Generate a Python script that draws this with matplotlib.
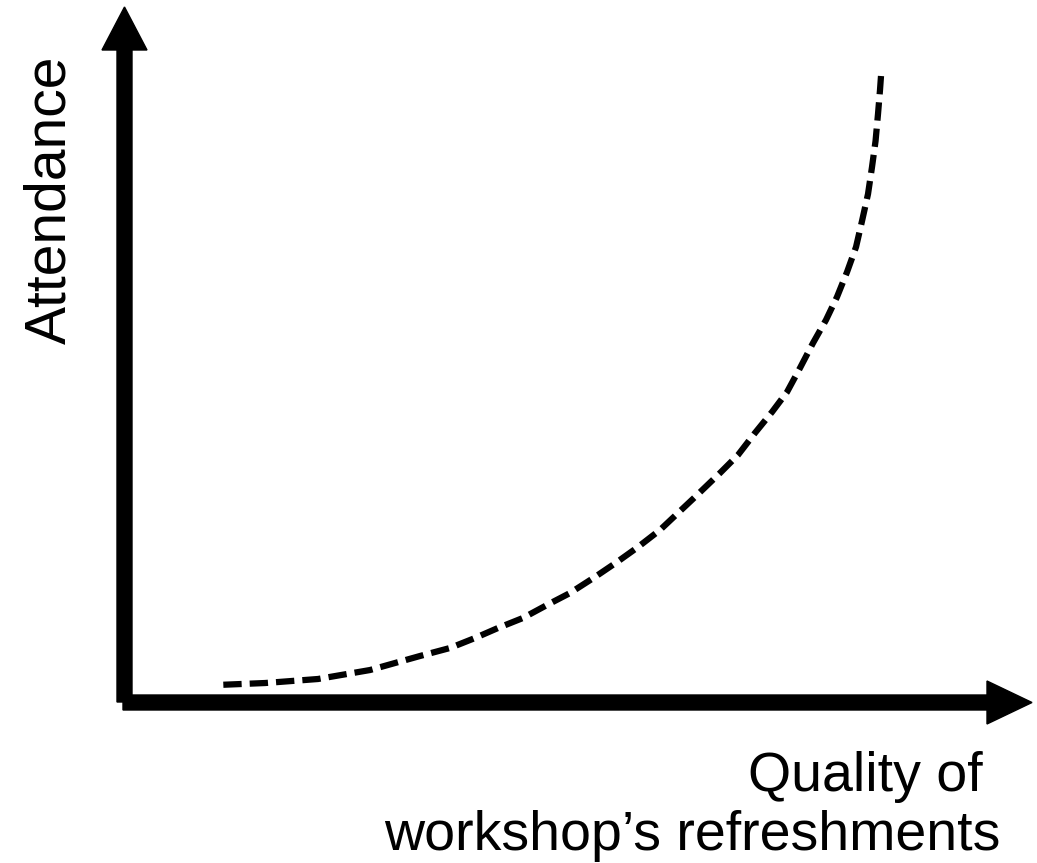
"""Schematic: attendance vs quality of workshop refreshments."""
import matplotlib
matplotlib.use("Agg")
import matplotlib.pyplot as plt
from matplotlib.patches import FancyArrow

plt.rcParams["font.family"] = ["Liberation Sans", "DejaVu Sans"]
plt.rcParams["lines.scale_dashes"] = False

# curve (axis units 0..10 on both axes)
quality = [1.035, 1.553, 2.137, 2.709, 3.260, 3.590, 3.866, 4.119, 4.394,
           4.659, 4.912, 5.187, 5.430, 5.661, 5.903, 6.101, 6.289, 6.564,
           6.762, 6.949, 7.137, 7.302, 7.445, 7.588, 7.731, 7.852, 7.963,
           8.062, 8.128, 8.194, 8.238, 8.277, 8.304, 8.326, 8.337]
attendance = [0.245, 0.273, 0.331, 0.460, 0.662, 0.777, 0.921, 1.065, 1.209,
              1.396, 1.568, 1.799, 2.014, 2.230, 2.475, 2.719, 2.950, 3.295,
              3.554, 3.871, 4.173, 4.460, 4.806, 5.165, 5.496, 5.827, 6.187,
              6.547, 6.921, 7.309, 7.698, 8.072, 8.460, 8.806, 9.007]

x_label = ["Quality of", "workshop\u2019s refreshments"]
y_label = "Attendance"

W, H, DPI = 1037, 863, 100
fig = plt.figure(figsize=(W / DPI, H / DPI), dpi=DPI)

# origin at pixel (124, 702), arrow tips at x=1032 / y=7
ax = fig.add_axes([124 / W, (H - 702) / H, (1032 - 124) / W, (702 - 7) / H])
ax.set_xlim(0, 10)
ax.set_ylim(0, 10)
ax.axis("off")

# dashed curve, drawn from the top end so the dash pattern starts there
ax.plot(quality[::-1], attendance[::-1], color="black", lw=4.5,
        dashes=(13.2, 5.8), dash_capstyle="butt", dash_joinstyle="round",
        clip_on=False)

# thick axis arrows (inches, via dpi_scale_trans)
tr = fig.dpi_scale_trans
fig.patches.append(FancyArrow(1.245, (H - 702) / DPI, 0, (702 - 7) / DPI,
                              width=0.15, head_width=0.45, head_length=0.43,
                              length_includes_head=True, color="black",
                              transform=tr, figure=fig))
fig.patches.append(FancyArrow(1.23, (H - 702.5) / DPI, (1032 - 123) / DPI, 0,
                              width=0.15, head_width=0.43, head_length=0.45,
                              length_includes_head=True, color="black",
                              transform=tr, figure=fig))

# labels
fig.text(50 / W, 1 - 200 / H, y_label, rotation=90, fontsize=41,
         ha="center", va="center")
fig.text(983 / W, 1 - 791 / H, x_label[0], fontsize=40, ha="right",
         va="baseline")
fig.text(1000 / W, 1 - 850 / H, x_label[1], fontsize=40, ha="right",
         va="baseline")

fig.savefig("out.png", dpi=DPI)
